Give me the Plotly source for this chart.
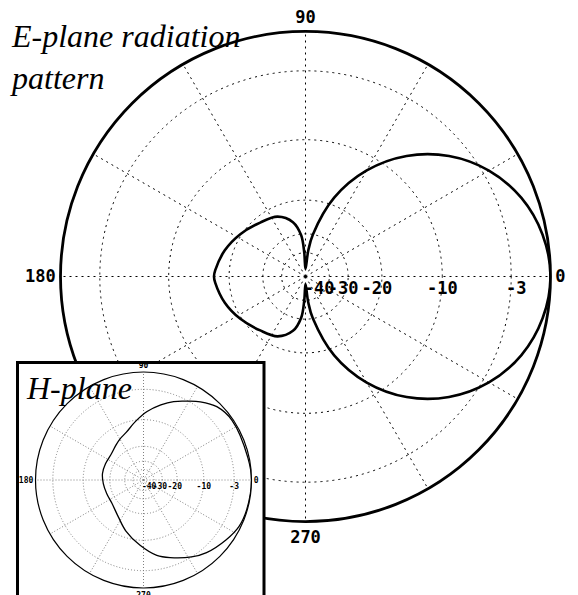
import math
import plotly.graph_objects as go

# the page adds an 8px body margin, so the figure is drawn 8px in from the corner
OFF = 8
W, H = 578 - OFF, 595 - OFF

# E-plane pattern (degrees, dB)
E_THETA = [0, 10, 20, 30, 40, 50, 60, 70, 80, 84, 90, 93, 96, 103, 115, 130, 147, 162, 176, 180,
           184, 198, 213, 230, 245, 257, 264, 267, 270, 276, 280, 290, 300, 310, 320, 330, 340, 350, 360]
E_DB = [0, -0.3, -1.1, -2.5, -4.6, -7.6, -11.9, -18.4, -30.0, -38.7, -60, -40, -30.5, -25.4, -22.5, -21.4, -19.7, -18.2, -17.1, -16.9,
        -17.1, -18.2, -19.7, -21.4, -22.5, -25.4, -30.5, -40, -60, -38.7, -30.0, -18.4, -11.9, -7.6, -4.6, -2.5, -1.1, -0.3, 0]

# H-plane pattern (inset)
H_THETA = [0, 12, 34, 45, 54, 61, 69, 77, 87, 98, 110, 120, 128, 140, 157, 171, 185, 200, 216,
           236, 251, 267, 280, 289, 302, 311, 324, 334, 344, 360]
H_DB = [0, -0.2, -0.2, -0.7, -1.9, -3.1, -4.3, -5.8, -7.8, -10.4, -13.0, -14.2, -15.2, -16.4, -16.5, -16.4, -16.9, -17.4, -17.4,
        -15.1, -11.9, -8.6, -5.9, -4.7, -3.0, -2.0, -1.0, -0.3, -0.1, 0]

RADIAL_TICKS = [-40, -30, -20, -10, -3]
RADIAL_LABELS = ["-40", "-30", "-20", "-10", "-3"]
ANGLE_TICKS = list(range(0, 360, 30))
ANGLE_LABELS = ["0", "", "", "90", "", "", "180", "", "", "270", "", ""]

NB = "\u00a0"


def nudge(text, n):
    # n > 0 pads on the right (label moves left), n < 0 pads on the left
    return text + NB * n if n >= 0 else NB * (-n) + text


MAIN_RADIAL_TEXT = [nudge(t, n) for t, n in zip(RADIAL_LABELS, [2, 1, 1, 0, -1])]
INSET_RADIAL_TEXT = [nudge(t, n) for t, n in zip(RADIAL_LABELS, [2, 1, 1, 0, 0])]


def arrl(db):
    # ARRL log-periodic scale: 2 dB per 0.89 step
    return 0.89 ** (-db / 2.0)


# layout geometry, page pixels
MAIN_CX, MAIN_CY, MAIN_R = 305.5, 276.5, 245
INS_CX, INS_CY, INS_R = 143.5, 480, 108
MASK_CX, MASK_CY, MASK_R = 170, 440, 150   # helper subplot that carries the white panel
BOX_X0, BOX_Y0, BOX_X1, BOX_Y1 = 17.5, 362.5, 264, 620


def fx(x):
    return (x - OFF) / W


def fy(y):
    return 1 - (y - OFF) / H


def domain(cx, cy, r):
    return dict(x=[fx(cx - r), fx(cx + r)], y=[fy(cy + r), fy(cy - r)])


def to_mask_polar(px, py):
    dx, dy = px - MASK_CX, MASK_CY - py
    return math.hypot(dx, dy) / MASK_R, math.degrees(math.atan2(dy, dx))


tick_font = dict(family="DejaVu Sans Mono, monospace", size=17, color="black", weight="bold")
small_font = dict(family="DejaVu Sans Mono, monospace", size=8, color="black", weight="bold")
title_font = dict(family="Liberation Serif, serif", size=32, color="black", style="italic")

fig = go.Figure()

fig.add_trace(go.Scatterpolar(
    r=[arrl(v) for v in E_DB], theta=E_THETA, mode="lines",
    line=dict(color="black", width=2.6, shape="spline", smoothing=1),
    subplot="polar", showlegend=False, hoverinfo="skip"))

# white panel behind the inset (hides the big chart there)
corners = [(BOX_X0, BOX_Y0), (BOX_X1, BOX_Y0), (BOX_X1, BOX_Y1), (BOX_X0, BOX_Y1), (BOX_X0, BOX_Y0)]
mask = [to_mask_polar(x, y) for x, y in corners]
fig.add_trace(go.Scatterpolar(
    r=[m[0] for m in mask], theta=[m[1] for m in mask], mode="lines", fill="toself",
    fillcolor="white", line=dict(color="white", width=0),
    subplot="polar2", showlegend=False, hoverinfo="skip"))

fig.add_trace(go.Scatterpolar(
    r=[arrl(v) for v in H_DB], theta=H_THETA, mode="lines",
    line=dict(color="black", width=1.3, shape="spline", smoothing=1),
    subplot="polar3", showlegend=False, hoverinfo="skip"))


def polar_layout(dom, font, radial_text, gridcolor, griddash, gridwidth, linewidth):
    return dict(
        domain=dom, bgcolor="white", hole=0,
        radialaxis=dict(range=[0, 1], tickmode="array", tickvals=[arrl(v) for v in RADIAL_TICKS],
                        ticktext=radial_text, showline=False, ticks="", angle=0, tickangle=0,
                        gridcolor=gridcolor, griddash=griddash, gridwidth=gridwidth, tickfont=font),
        angularaxis=dict(tickmode="array", tickvals=ANGLE_TICKS, ticktext=ANGLE_LABELS,
                         direction="counterclockwise", rotation=0, ticks="",
                         showline=True, linecolor="black", linewidth=linewidth,
                         gridcolor=gridcolor, griddash=griddash, gridwidth=gridwidth, tickfont=font),
    )


fig.update_layout(
    width=W, height=H, margin=dict(l=0, r=0, t=0, b=0),
    paper_bgcolor="white", plot_bgcolor="white", showlegend=False,
    polar=polar_layout(domain(MAIN_CX, MAIN_CY, MAIN_R), tick_font, MAIN_RADIAL_TEXT,
                       "black", "2px,4px", 1.2, 2.8),
    polar2=dict(domain=domain(MASK_CX, MASK_CY, MASK_R), bgcolor="rgba(0,0,0,0)",
                radialaxis=dict(range=[0, 1], visible=False),
                angularaxis=dict(visible=False, direction="counterclockwise", rotation=0)),
    polar3=polar_layout(domain(INS_CX, INS_CY, INS_R), small_font, INSET_RADIAL_TEXT,
                        "#808080", "1px,2px", 1, 1.2),
    shapes=[dict(type="rect", xref="paper", yref="paper", layer="above",
                 x0=fx(BOX_X0), x1=fx(BOX_X1), y0=fy(BOX_Y1), y1=fy(BOX_Y0),
                 line=dict(color="black", width=3), fillcolor="rgba(0,0,0,0)")],
    annotations=[
        dict(text="E-plane radiation<br>pattern", xref="paper", yref="paper", x=fx(8), y=fy(16),
             xanchor="left", yanchor="top", align="left", showarrow=False, font=title_font),
        dict(text="H-plane", xref="paper", yref="paper", x=fx(24), y=fy(368),
             xanchor="left", yanchor="top", align="left", showarrow=False, font=title_font),
    ],
)

fig.write_html("out.html")
